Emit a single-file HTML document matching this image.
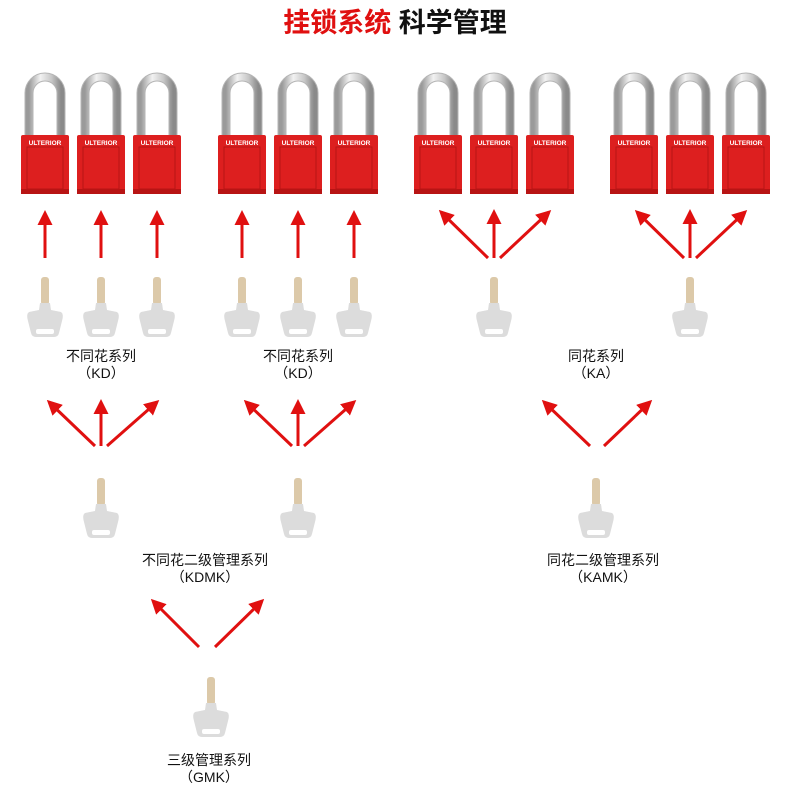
<!DOCTYPE html>
<html><head><meta charset="utf-8"><style>
body{margin:0;background:#fff}
svg{display:block}
text{font-family:"Liberation Sans","Noto Sans CJK SC",sans-serif}
</style></head><body>
<svg width="790" height="790" viewBox="0 0 790 790" xmlns="http://www.w3.org/2000/svg">
<defs>
<linearGradient id="sh" x1="0" x2="1"><stop offset="0" stop-color="#9a9a9a"/><stop offset=".35" stop-color="#f2f2f2"/><stop offset=".7" stop-color="#c8c8c8"/><stop offset="1" stop-color="#8a8a8a"/></linearGradient>
<marker id="ah" viewBox="0 0 10 10" refX="8" refY="5" markerWidth="5" markerHeight="5" orient="auto"><path d="M0,0 L10,5 L0,10 z" fill="#e01010"/></marker>
<g id="lock">
<path d="M-16,63 L-16,20 A16,16 0 0 1 16,20 L16,63" fill="none" stroke="#b5b5b5" stroke-width="9"/>
<path d="M-16,63 L-16,20 A16,16 0 0 1 16,20 L16,63" fill="none" stroke="url(#sh)" stroke-width="7"/>
<rect x="-24" y="62" width="48" height="59" rx="2" fill="#dd1f1f"/>
<rect x="-18" y="74" width="36" height="42" fill="none" stroke="#b81414" stroke-width="1"/>
<text x="0" y="72" font-size="6.5" font-weight="bold" fill="#fff" text-anchor="middle">ULTERIOR</text>
<rect x="-24" y="116" width="48" height="5" fill="#b81414"/>
</g>
<g id="key">
<rect x="-4" y="0" width="8" height="28" rx="3" fill="#dcc9a9"/>
<path d="M-5,26 L5,26 L6,33 L16,35 Q19,37 17,44 L14,56 Q13,60 9,60 L-9,60 Q-13,60 -14,56 L-17,44 Q-19,37 -16,35 L-6,33 Z" fill="#dcdcdc"/>
<rect x="-9" y="52" width="18" height="5" rx="2" fill="#fff"/>
</g>
</defs>
<text x="395" y="32" font-size="27" font-weight="bold" text-anchor="middle"><tspan fill="#e01010">挂锁系统</tspan><tspan fill="#111"> 科学管理</tspan></text>
<g>
<use href="#lock" x="45" y="73"/><use href="#lock" x="101" y="73"/><use href="#lock" x="157" y="73"/>
<use href="#lock" x="242" y="73"/><use href="#lock" x="298" y="73"/><use href="#lock" x="354" y="73"/>
<use href="#lock" x="438" y="73"/><use href="#lock" x="494" y="73"/><use href="#lock" x="550" y="73"/>
<use href="#lock" x="634" y="73"/><use href="#lock" x="690" y="73"/><use href="#lock" x="746" y="73"/>
</g>
<g stroke="#e01010" stroke-width="3" marker-end="url(#ah)">
<line x1="45" y1="258" x2="45" y2="213"/><line x1="101" y1="258" x2="101" y2="213"/><line x1="157" y1="258" x2="157" y2="213"/>
<line x1="242" y1="258" x2="242" y2="213"/><line x1="298" y1="258" x2="298" y2="213"/><line x1="354" y1="258" x2="354" y2="213"/>
<line x1="488" y1="258" x2="441" y2="212"/><line x1="494" y1="258" x2="494" y2="212"/><line x1="500" y1="258" x2="549" y2="212"/>
<line x1="684" y1="258" x2="637" y2="212"/><line x1="690" y1="258" x2="690" y2="212"/><line x1="696" y1="258" x2="745" y2="212"/>
<line x1="95" y1="446" x2="49" y2="402"/><line x1="101" y1="446" x2="101" y2="402"/><line x1="107" y1="446" x2="157" y2="402"/>
<line x1="292" y1="446" x2="246" y2="402"/><line x1="298" y1="446" x2="298" y2="402"/><line x1="304" y1="446" x2="354" y2="402"/>
<line x1="590" y1="446" x2="544" y2="402"/><line x1="604" y1="446" x2="650" y2="402"/>
<line x1="199" y1="647" x2="153" y2="601"/><line x1="215" y1="647" x2="262" y2="601"/>
</g>
<g>
<use href="#key" x="45" y="277"/><use href="#key" x="101" y="277"/><use href="#key" x="157" y="277"/>
<use href="#key" x="242" y="277"/><use href="#key" x="298" y="277"/><use href="#key" x="354" y="277"/>
<use href="#key" x="494" y="277"/><use href="#key" x="690" y="277"/>
<use href="#key" x="101" y="478"/><use href="#key" x="298" y="478"/><use href="#key" x="596" y="478"/>
<use href="#key" x="211" y="677"/>
</g>
<g font-size="14" fill="#111" text-anchor="middle">
<text x="101" y="361">不同花系列</text><text x="101" y="378">（KD）</text>
<text x="298" y="361">不同花系列</text><text x="298" y="378">（KD）</text>
<text x="596" y="361">同花系列</text><text x="596" y="378">（KA）</text>
<text x="205" y="565">不同花二级管理系列</text><text x="205" y="582">（KDMK）</text>
<text x="603" y="565">同花二级管理系列</text><text x="603" y="582">（KAMK）</text>
<text x="209" y="765">三级管理系列</text><text x="209" y="782">（GMK）</text>
</g>
</svg>
</body></html>
